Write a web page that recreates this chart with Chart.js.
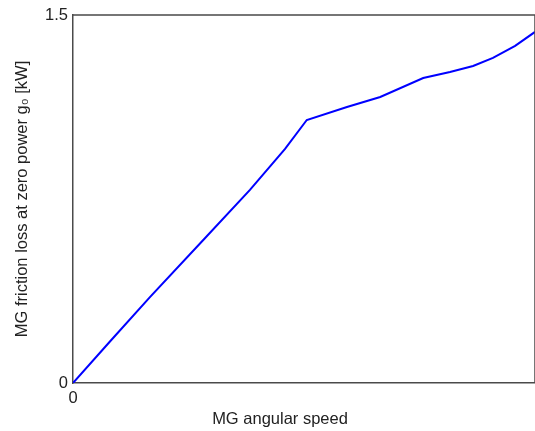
<!DOCTYPE html>
<html>
<head>
<meta charset="utf-8">
<script src="https://cdn.jsdelivr.net/npm/chart.js@4"></script>
<style>
  html, body { margin: 0; padding: 0; background: #fff; }
  #wrap { width: 535px; height: 431px; }
</style>
</head>
<body>
<div id="wrap"><canvas id="grafico"></canvas></div>
<script>
// velocidade normalizada (eixo x) e perda por atrito (kW)
const speed = [0, 0.08, 0.167, 0.286, 0.383, 0.459, 0.506, 0.593, 0.665, 0.758, 0.816, 0.866, 0.909, 0.957, 1.0];
const lossKW = [0, 0.169, 0.351, 0.591, 0.787, 0.954, 1.072, 1.125, 1.166, 1.243, 1.268, 1.292, 1.325, 1.374, 1.431];
const xTicks = [0];
const yTicks = [0, 1.5];
const xTitle = "MG angular speed";
const yTitle = "MG friction loss at zero power g₀ [kW]";

const fonte = { family: "'Liberation Sans', Arial, sans-serif", size: 16.5 };
const corEixo = "#4a4a4a";

// moldura (topo e direita) + titulo do eixo x
const molduraPlugin = {
  id: "moldura",
  afterDraw(chart) {
    const { ctx, chartArea } = chart;
    ctx.save();
    ctx.strokeStyle = corEixo;
    ctx.lineWidth = 1.5;
    ctx.beginPath();
    ctx.moveTo(chartArea.left, chartArea.top);
    ctx.lineTo(chartArea.right, chartArea.top);
    ctx.lineTo(chartArea.right, chartArea.bottom);
    ctx.stroke();
    ctx.fillStyle = "#222";
    ctx.font = `${fonte.size}px ${fonte.family}`;
    ctx.textAlign = "center";
    ctx.textBaseline = "middle";
    ctx.fillText(xTitle, 280, 419);
    ctx.restore();
  },
};

new Chart(document.getElementById("grafico"), {
  type: "line",
  data: {
    datasets: [
      {
        data: speed.map((v, i) => ({ x: v, y: lossKW[i] })),
        borderColor: "#0000ff",
        borderWidth: 2,
        pointRadius: 0,
        tension: 0,
        fill: false,
      },
    ],
  },
  options: {
    responsive: true,
    maintainAspectRatio: false,
    animation: false,
    layout: { padding: { top: 15, right: 0, left: 0, bottom: 0 } },
    plugins: { legend: { display: false }, tooltip: { enabled: false } },
    scales: {
      x: {
        type: "linear",
        min: 0,
        max: 1,
        grid: { display: false, drawTicks: false },
        border: { display: true, color: corEixo, width: 1.5 },
        afterBuildTicks: (s) => { s.ticks = xTicks.map((v) => ({ value: v })); },
        afterFit: (s) => { s.height = 48; },
        ticks: { color: "#222", font: fonte, padding: 6 },
      },
      y: {
        type: "linear",
        min: 0,
        max: 1.5,
        grid: { display: false, drawTicks: false },
        border: { display: true, color: corEixo, width: 1.5 },
        afterBuildTicks: (s) => { s.ticks = yTicks.map((v) => ({ value: v })); },
        afterFit: (s) => { s.width = 73; },
        ticks: { color: "#222", font: fonte, padding: 5, callback: (v) => String(v) },
        title: { display: true, text: yTitle, color: "#222", font: fonte, padding: { top: 13, bottom: 0 } },
      },
    },
  },
  plugins: [molduraPlugin],
});
</script>
</body>
</html>
